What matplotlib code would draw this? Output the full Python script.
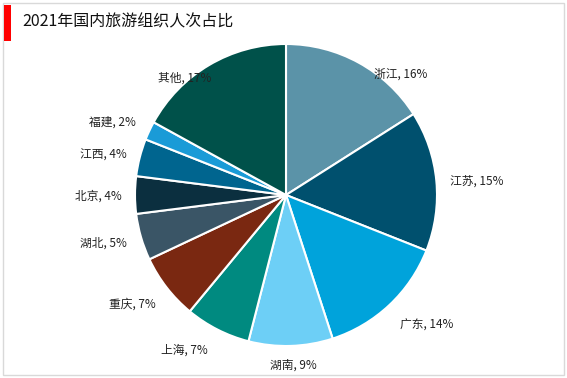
import matplotlib
matplotlib.use("Agg")
import matplotlib.pyplot as plt
from matplotlib.patches import Rectangle

plt.rcParams['font.family'] = ['Noto Sans CJK SC', 'DejaVu Sans']

title = "2021年国内旅游组织人次占比"
regions = ["浙江", "江苏", "广东", "湖南", "上海", "重庆", "湖北", "北京", "江西", "福建", "其他"]
shares = [16, 15, 14, 9, 7, 7, 5, 4, 4, 2, 17]
colors = ["#5b93a8", "#00506e", "#00a3db", "#6dcff6", "#008a80", "#7a2811",
          "#3a5566", "#0b2f3f", "#00658f", "#1a9bd7", "#00514a"]
# label centres, in units of the pie radius (Excel "best fit" placement)
label_pos = [(0.76, 0.80), (1.26, 0.09), (0.93, -0.86), (0.05, -1.13),
             (-0.67, -1.03), (-1.02, -0.72), (-1.21, -0.32), (-1.245, -0.01),
             (-1.21, 0.265), (-1.15, 0.48), (-0.67, 0.775)]

W, H = 567, 378
fig = plt.figure(figsize=(W / 100, H / 100), dpi=100)

# light frame around the figure
fig.patches.append(Rectangle((3 / W, 3 / H), 1 - 6 / W, 1 - 6 / H, transform=fig.transFigure,
                             fill=False, edgecolor="#d9d9d9", linewidth=1))
# red marker + title
fig.patches.append(Rectangle((4 / W, 1 - 41 / H), 7 / W, 36 / H, transform=fig.transFigure,
                             facecolor="#ff0000", edgecolor="none"))
fig.text(22 / W, 1 - 22 / H, title, fontsize=11.5, va="center", ha="left", color="#111111")

cx, cy, r = 286, 195, 151
ax = fig.add_axes([(cx - r) / W, (H - cy - r) / H, 2 * r / W, 2 * r / H])
ax.pie(shares, colors=colors, startangle=90, counterclock=False, radius=1,
       wedgeprops=dict(edgecolor="white", linewidth=1.5))
ax.set_xlim(-1, 1)
ax.set_ylim(-1, 1)
ax.axis("off")

for name, v, (lx, ly) in zip(regions, shares, label_pos):
    ax.text(lx, ly, f"{name}, {v}%", ha="center", va="center", fontsize=8.5,
            color="#222222", clip_on=False)

fig.savefig("out.png", dpi=100)
